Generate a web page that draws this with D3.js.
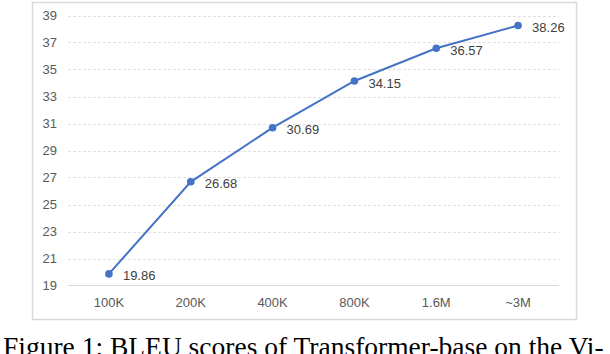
<!DOCTYPE html>
<html>
<head>
<meta charset="utf-8">
<script src="https://cdn.jsdelivr.net/npm/d3@7"></script>
<style>
  body { margin: 0; background: #fff; }
  svg { display: block; }
</style>
</head>
<body>
<div id="chart"></div>
<script>
var categories = ["100K", "200K", "400K", "800K", "1.6M", "~3M"];
var bleu = [19.86, 26.68, 30.69, 34.15, 36.57, 38.26];
var yTicks = [19, 21, 23, 25, 27, 29, 31, 33, 35, 37, 39];
var caption = "Figure 1: BLEU scores of Transformer-base on the Vi-";

var width = 610, height = 354;
var svg = d3.select("#chart").append("svg")
    .attr("width", width)
    .attr("height", height);

// chart frame
svg.append("rect")
    .attr("x", 32.5).attr("y", 2.5)
    .attr("width", 544).attr("height", 317)
    .attr("fill", "#fff")
    .attr("stroke", "#d9d9d9")
    .attr("stroke-width", 1.5);

var x = d3.scaleBand().domain(categories).range([68, 559]);
var y = d3.scaleLinear().domain([19, 39]).range([285.5, 15.5]);

// gridlines
svg.append("g").selectAll("line")
    .data(yTicks.slice(1))
    .enter().append("line")
    .attr("x1", 68).attr("x2", 559)
    .attr("y1", function(d){ return Math.round(y(d)) + 0.5; })
    .attr("y2", function(d){ return Math.round(y(d)) + 0.5; })
    .attr("stroke", "#e0e0e0")
    .attr("stroke-dasharray", "3,2");

// baseline
svg.append("line")
    .attr("x1", 68).attr("x2", 559)
    .attr("y1", y(19)).attr("y2", y(19))
    .attr("stroke", "#d9d9d9")
    .attr("stroke-width", 1);

// y labels
svg.append("g").selectAll("text")
    .data(yTicks)
    .enter().append("text")
    .attr("x", 57)
    .attr("y", function(d){ return y(d); })
    .attr("dy", "0.35em")
    .attr("text-anchor", "end")
    .attr("font-family", "Liberation Sans, Arial, sans-serif")
    .attr("font-size", 13)
    .attr("fill", "#595959")
    .text(function(d){ return d; });

// x labels
svg.append("g").selectAll("text")
    .data(categories)
    .enter().append("text")
    .attr("x", function(d){ return x(d) + x.bandwidth() / 2; })
    .attr("y", 302)
    .attr("dy", "0.35em")
    .attr("text-anchor", "middle")
    .attr("font-family", "Liberation Sans, Arial, sans-serif")
    .attr("font-size", 13)
    .attr("fill", "#595959")
    .text(function(d){ return d; });

var pts = categories.map(function(c, i){ return {cat: c, v: bleu[i]}; });
var line = d3.line()
    .x(function(d){ return x(d.cat) + x.bandwidth() / 2; })
    .y(function(d){ return y(d.v); });

svg.append("path")
    .datum(pts)
    .attr("d", line)
    .attr("fill", "none")
    .attr("stroke", "#4472c4")
    .attr("stroke-width", 2);

svg.append("g").selectAll("circle")
    .data(pts)
    .enter().append("circle")
    .attr("cx", function(d){ return x(d.cat) + x.bandwidth() / 2; })
    .attr("cy", function(d){ return y(d.v); })
    .attr("r", 3.8)
    .attr("fill", "#4472c4");

svg.append("g").selectAll("text")
    .data(pts)
    .enter().append("text")
    .attr("x", function(d){ return x(d.cat) + x.bandwidth() / 2 + 14; })
    .attr("y", function(d){ return y(d.v) + 2; })
    .attr("dy", "0.35em")
    .attr("font-family", "Liberation Sans, Arial, sans-serif")
    .attr("font-size", 13)
    .attr("fill", "#404040")
    .text(function(d){ return d.v.toFixed(2); });

// caption (cut off by the page bottom, as in the source figure)
svg.append("text")
    .attr("x", 3)
    .attr("y", 356)
    .attr("font-family", "Liberation Serif, Times New Roman, serif")
    .attr("font-size", 27.5)
    .attr("fill", "#000")
    .text(caption);
</script>
</body>
</html>
